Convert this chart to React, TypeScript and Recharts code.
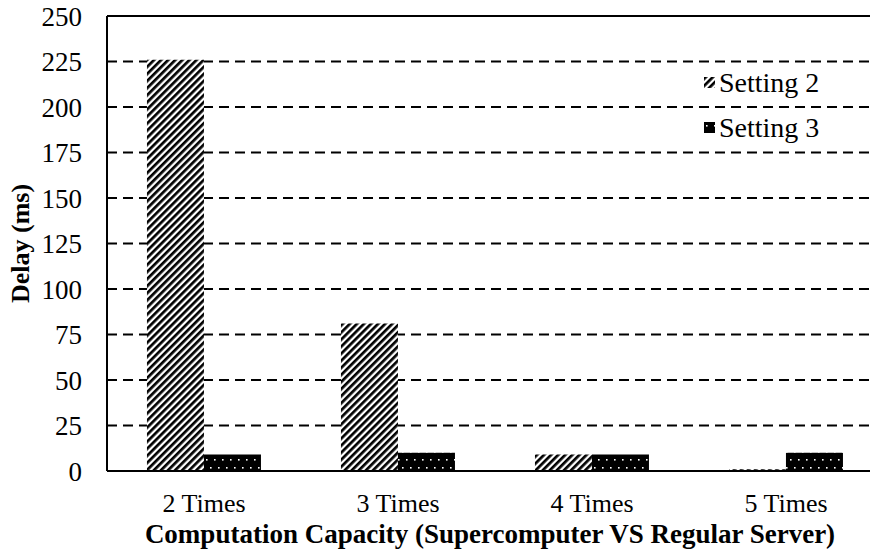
import { BarChart, Bar, XAxis, YAxis, CartesianGrid, Legend, ReferenceLine, Label } from 'recharts';

const categories = ['2 Times', '3 Times', '4 Times', '5 Times'];
const setting2 = [226, 81, 9, 1];
const setting3 = [9, 10, 9, 10];
const yTicks = [0, 25, 50, 75, 100, 125, 150, 175, 200, 225, 250];

const data = categories.map((name, i) => ({ name, s2: setting2[i], s3: setting3[i] }));

const FONT = '"Liberation Serif", "Times New Roman", serif';

function LegendBox() {
  const items = [
    { label: 'Setting 2', fill: 'url(#stripes)' },
    { label: 'Setting 3', fill: 'url(#dots)' },
  ];
  return (
    <div style={{ fontFamily: FONT, fontSize: 28, color: '#000', lineHeight: '45px' }}>
      {items.map(it => (
        <div key={it.label} style={{ display: 'flex', alignItems: 'center', height: 45 }}>
          <svg width={11} height={11} style={{ marginRight: 4 }}>
            <rect width={11} height={11} fill={it.fill} />
          </svg>
          <span>{it.label}</span>
        </div>
      ))}
    </div>
  );
}

export default function App() {
  return (
    <div style={{ position: 'absolute', left: 0, top: 0, width: 870, height: 552, overflow: 'hidden', background: '#fff' }}>
      <BarChart width={883} height={552} data={data} margin={{ top: 16, right: 0, bottom: 0, left: 0 }} barCategoryGap="20.6%" barGap={0}>
        <defs>
          <pattern id="stripes" patternUnits="userSpaceOnUse" width={5} height={5} patternTransform="rotate(45)">
            <rect width={5} height={5} fill="#fff" />
            <rect width={2.7} height={5} fill="#000" />
          </pattern>
          <pattern id="dots" patternUnits="userSpaceOnUse" width={8} height={16}>
            <rect width={8} height={16} fill="#000" />
            <rect x={2} y={3} width={1.6} height={1.6} fill="#fff" />
            <rect x={6} y={11} width={1.6} height={1.6} fill="#fff" />
          </pattern>
        </defs>
        <CartesianGrid vertical={false} stroke="#000" strokeWidth={1.8} strokeDasharray="10 6" />
        <ReferenceLine y={250} stroke="#000" strokeWidth={2} />
        <XAxis
          dataKey="name"
          height={81}
          axisLine={{ stroke: '#000', strokeWidth: 2 }}
          tickLine={false}
          tickSize={0}
          tickMargin={23}
          tick={{ fill: '#000', fontSize: 26, fontFamily: FONT }}
        >
          <Label value="Computation Capacity (Supercomputer VS Regular Server)" position="insideBottom" offset={9}
            style={{ fill: '#000', fontSize: 27, fontWeight: 'bold', fontFamily: FONT }} dx={-5} />
        </XAxis>
        <YAxis
          width={107}
          domain={[0, 250]}
          ticks={yTicks}
          interval={0}
          axisLine={{ stroke: '#000', strokeWidth: 2 }}
          tickLine={false}
          tickSize={0}
          tickMargin={25}
          tick={{ fill: '#000', fontSize: 27, fontFamily: FONT }}
        >
          <Label value="Delay (ms)" angle={-90} position="insideLeft" offset={20}
            style={{ fill: '#000', fontSize: 26, fontWeight: 'bold', fontFamily: FONT, textAnchor: 'middle' }} />
        </YAxis>
        <Legend layout="horizontal" verticalAlign="middle" align="center" content={<LegendBox />}
          wrapperStyle={{ left: 704, top: 60, width: 170 }} />
        <Bar dataKey="s2" name="Setting 2" fill="url(#stripes)" isAnimationActive={false} />
        <Bar dataKey="s3" name="Setting 3" fill="url(#dots)" isAnimationActive={false} />
      </BarChart>
    </div>
  );
}
